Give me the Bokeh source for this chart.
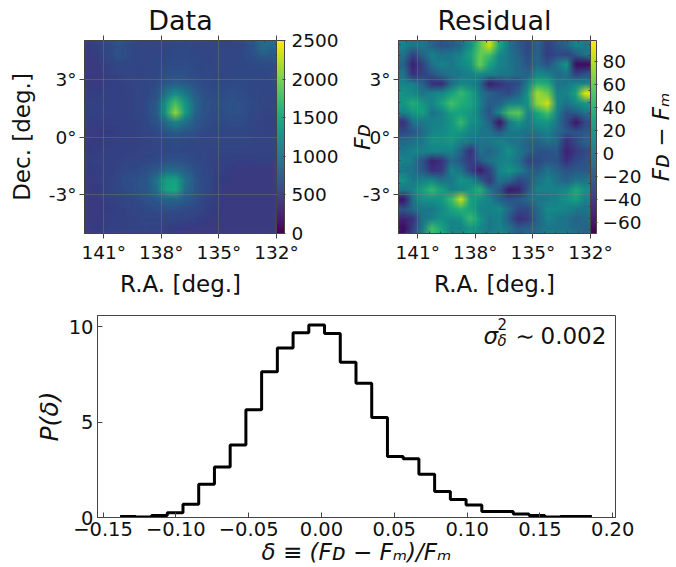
from bokeh.plotting import figure
from bokeh.layouts import column, row
from bokeh.models import (Range1d, LinearColorMapper, ColorBar, FixedTicker, LinearAxis, Label)
from bokeh.palettes import Viridis256
from bokeh.embed import file_html
from bokeh.resources import INLINE
import numpy as np

ra_ticks = [141, 138, 135, 132]
dec_ticks = [-3, 0, 3]
ra_minor = [141.6, 141.0, 140.4, 139.8, 139.2, 138.6, 138.0, 137.4, 136.8, 136.2, 135.6, 135.0, 134.4, 133.8, 133.2, 132.6, 132.0]
dec_minor = [-4.8, -4.2, -3.6, -3.0, -2.4, -1.8, -1.2, -0.6, 0.0, 0.6, 1.2, 1.8, 2.4, 3.0, 3.6, 4.2, 4.8]
data_ticks = [0, 500, 1000, 1500, 2000, 2500]
resid_ticks = [-60, -40, -20, 0, 20, 40, 60, 80]
hist_xticks = [-0.15, -0.10, -0.05, 0.00, 0.05, 0.10, 0.15, 0.20]
hist_xlabels = ["\u22120.15", "\u22120.10", "\u22120.05", "0.00", "0.05", "0.10", "0.15", "0.20"]
hist_yticks = [0, 5, 10]

data_map = [
[520,560,620,700,660,600,580,580,600,620,620,600,600,580,580,600,620,700,950,900],
[500,540,620,720,650,600,590,600,620,640,640,620,600,590,590,600,640,680,800,780],
[480,510,560,620,610,590,590,610,640,660,660,640,610,590,590,600,620,640,660,660],
[480,500,540,570,580,580,590,620,670,700,690,650,620,600,600,610,620,620,620,630],
[500,510,530,550,570,580,600,650,760,830,790,700,640,620,630,640,630,620,610,610],
[530,530,540,550,560,580,620,710,1000,1250,1080,800,680,650,660,680,650,620,600,590],
[540,550,550,550,560,590,640,780,1350,1800,1350,880,720,670,680,710,680,630,590,580],
[540,550,550,550,560,590,640,780,1400,2100,1400,870,710,660,670,700,680,620,580,570],
[530,530,530,540,550,570,620,710,950,1150,980,780,680,640,640,660,650,600,570,560],
[510,510,520,530,540,560,590,650,740,800,750,680,630,610,610,620,610,590,570,560],
[510,520,530,540,550,560,570,600,640,660,640,620,600,590,590,600,590,580,570,570],
[520,530,540,550,560,570,580,590,620,630,620,600,590,570,570,570,570,570,570,570],
[530,540,540,560,580,590,610,640,680,700,680,640,600,570,550,540,530,530,540,540],
[520,530,550,580,620,640,680,770,950,960,830,690,610,560,530,510,500,500,510,510],
[510,530,570,620,670,690,760,1000,1450,1500,1000,750,630,560,520,500,490,490,490,500],
[500,520,560,610,660,690,760,950,1500,1550,950,740,630,550,510,490,480,480,490,490],
[500,510,540,570,610,650,700,770,860,880,790,680,600,540,510,490,480,480,480,480],
[500,500,520,550,570,600,630,660,680,680,650,610,560,520,500,490,480,480,480,480],
[500,510,530,550,560,570,590,600,600,590,570,550,520,500,490,480,480,480,480,480],
[510,520,540,550,560,570,570,560,540,520,510,500,490,490,480,480,480,480,480,480],
]

resid_map = [
[8,-3,2,-12,-22,-18,-8,17,55,85,32,-3,-18,-30,-12,-32,-22,-12,8,2],
[-3,-32,-12,8,-3,2,8,28,60,50,12,2,-12,-28,-12,-35,-28,-32,-18,-3],
[-12,-50,-32,-3,8,2,12,22,62,32,8,2,-8,-22,-8,-22,-3,20,-60,-60],
[-3,-42,-32,-22,-8,-3,2,8,12,8,2,2,-8,-12,12,8,-8,-3,-32,-22],
[8,8,-12,-42,-45,-8,12,8,-8,-52,-42,-32,-28,8,40,35,-3,2,12,12],
[18,12,2,8,12,28,45,32,2,-12,-22,-28,-12,22,75,62,8,8,28,90],
[22,38,22,8,28,50,38,32,8,-18,-12,8,8,18,70,85,12,-3,12,22],
[8,22,28,-3,8,28,28,22,2,-22,12,52,58,8,32,50,8,-22,-18,-3],
[-42,-3,2,8,8,22,45,18,8,-12,-55,2,22,2,18,22,2,-28,-55,-28],
[-28,-22,-8,8,12,22,22,8,2,-3,-18,2,2,-3,2,8,-8,-18,-22,-18],
[-8,-3,2,18,18,22,8,2,-3,2,8,2,-3,-12,-12,-3,-8,-42,-28,-12],
[2,8,8,8,8,8,-12,-42,-3,-12,2,18,2,-12,-22,-22,-18,-48,-38,-28],
[8,2,-22,-50,-42,-8,-22,-38,-18,-3,8,8,-3,-32,-28,-22,-22,-42,-28,-22],
[2,-3,-18,-42,-38,8,-3,-32,-52,-32,8,22,8,-12,-18,-3,-12,-22,-18,-18],
[18,2,8,12,-3,2,22,12,-12,-38,-3,-8,-28,-22,-3,8,-3,-12,-3,-3],
[2,8,28,45,28,8,8,22,40,2,-22,-55,-50,-18,8,8,8,12,35,18],
[-55,-3,18,18,22,45,85,28,18,8,-12,-22,-18,-8,2,2,8,18,28,8],
[-22,-8,2,2,12,32,40,32,8,8,12,-8,-28,-28,-8,12,12,8,2,-3],
[-48,-42,-3,8,18,12,18,45,22,2,8,-18,-42,-38,-12,8,2,-3,-12,-8],
[-60,-32,2,50,32,8,8,22,12,2,8,-3,-18,-12,-8,2,2,-3,-8,-12],
]

bin_edges = [-0.1383,-0.1275,-0.1167,-0.1059,-0.0951,-0.0843,-0.0735,-0.0627,-0.0519,-0.0411,-0.0303,
             -0.0195,-0.0087,0.0021,0.0129,0.0237,0.0345,0.0453,0.0561,0.0669,0.0777,0.0885,0.0993,
             0.1101,0.1209,0.1317,0.1425,0.1533,0.1641,0.1749,0.1857]
hist_vals = [0.05,0.02,0.10,0.25,0.70,1.75,2.65,3.80,5.65,7.65,8.90,9.70,10.10,9.65,8.15,7.05,5.25,3.20,3.08,
             2.27,1.36,0.95,0.65,0.32,0.32,0.18,0.10,0.03,0.05,0.05]

FONT = "DejaVu Sans"
INK = "#111111"
FRAME = "#444444"
LAYER_SHIFTS = [0.0, -0.1, 0.1, -0.2, 0.2]


def piece(p, ox, oy, px, py, text, size, style="normal"):
    p.add_layout(Label(x=px - ox, y=oy - py + 10, x_units="screen", y_units="screen", text=text,
                       text_font=FONT, text_font_size=f"{size}px", text_font_style=style,
                       text_color=INK, text_align="left", text_baseline="alphabetic"))


def style_axis(a, tick_size):
    a.major_label_text_font = FONT
    a.major_label_text_font_size = tick_size
    a.major_label_text_color = INK
    a.axis_label_text_font = FONT
    a.axis_label_text_color = INK
    a.axis_line_color = FRAME
    a.major_tick_line_color = FRAME


def map_panel(values, low, high, title, left, w, cbar_ticks, cbar_labels, cbar_w, ylabel, ylabel_italic, cb_standoff):
    p = figure(width=w, height=300, frame_width=192, frame_height=193,
               x_range=Range1d(142, 132), y_range=Range1d(-5, 5),
               toolbar_location=None, output_backend="svg",
               min_border_left=left, min_border_right=w - left - 192,
               min_border_top=40, min_border_bottom=67)
    mapper = LinearColorMapper(palette=Viridis256, low=low, high=high)
    # the reference map is displayed smoothly: the same read grid is layered with small shifts
    img = np.fliplr(np.flipud(np.array(values, dtype=float)))
    k = 0
    for dy in LAYER_SHIFTS:
        for dx in LAYER_SHIFTS:
            k += 1
            p.image(image=[img], x=132 + dx, y=-5 + dy, dw=10, dh=10, color_mapper=mapper, global_alpha=1.0 / k)
    p.title.text = title
    p.title.align = "center"
    p.title.text_font = FONT
    p.title.text_font_size = "27px"
    p.title.text_font_style = "normal"
    p.title.text_color = INK
    p.title.standoff = 0
    p.xaxis.ticker = FixedTicker(ticks=ra_ticks, minor_ticks=ra_minor)
    p.yaxis.ticker = FixedTicker(ticks=dec_ticks, minor_ticks=dec_minor)
    p.xaxis.major_label_overrides = {t: f"{t}\u00b0" for t in ra_ticks}
    p.yaxis.major_label_overrides = {t: f"{t}\u00b0" for t in dec_ticks}
    p.xaxis.axis_label = "R.A. [deg.]"
    p.yaxis.axis_label = ylabel
    for a in [p.xaxis[0], p.yaxis[0]]:
        style_axis(a, "18.5px")
        a.axis_label_text_font_size = "23px"
        a.axis_label_text_font_style = "normal"
        a.minor_tick_line_color = FRAME
        a.major_tick_out = 5
        a.major_tick_in = 0
        a.minor_tick_out = 0
        a.minor_tick_in = 2
    if ylabel_italic:
        p.yaxis.axis_label_text_font_style = "italic"
        p.yaxis.axis_label_text_font_size = "22px"
    p.xaxis.major_label_standoff = 3
    p.yaxis.major_label_standoff = 3
    p.xaxis.axis_label_standoff = 5
    p.yaxis.axis_label_standoff = -15 if ylabel_italic else 11
    for g, t in ((p.xgrid, ra_ticks), (p.ygrid, dec_ticks)):
        g.ticker = FixedTicker(ticks=t)
        g.level = "overlay"
        g.grid_line_color = "#8a8a6a"
        g.grid_line_alpha = 0.7
        g.grid_line_dash = "1 1"
        g.grid_line_width = 1
    for side, tk, mt in (("above", ra_ticks, ra_minor), ("right", dec_ticks, dec_minor)):
        ax = LinearAxis(ticker=FixedTicker(ticks=tk, minor_ticks=mt), major_label_text_font_size="1px",
                        major_label_text_color=None, major_label_overrides={t: " " for t in tk},
                        axis_line_color=FRAME, major_tick_line_color=FRAME, minor_tick_line_color=FRAME,
                        major_tick_out=5 if side == "above" else 0, major_tick_in=0, minor_tick_out=0, minor_tick_in=2,
                        major_label_standoff=2 if side == "right" else 0)
        p.add_layout(ax, side)
    cb = ColorBar(color_mapper=mapper, ticker=FixedTicker(ticks=cbar_ticks), width=cbar_w,
                  major_label_overrides=cbar_labels, major_label_text_font=FONT,
                  major_label_text_font_size="18.5px", major_label_text_color=INK,
                  major_tick_line_color=FRAME, major_tick_in=2, major_tick_out=1,
                  minor_tick_line_color=None, bar_line_color=FRAME, padding=0, margin=0, label_standoff=cb_standoff)
    p.add_layout(cb, "right")
    p.outline_line_color = FRAME
    return p


def label_strip(text, size, left, standoff):
    s = figure(width=left + 1, height=300, frame_width=1, frame_height=193,
               x_range=Range1d(0, 1), y_range=Range1d(-5, 5), toolbar_location=None, output_backend="svg",
               min_border_left=left, min_border_right=0, min_border_top=40, min_border_bottom=67)
    s.xaxis.visible = False
    s.grid.visible = False
    s.outline_line_color = None
    s.yaxis.ticker = FixedTicker(ticks=[])
    s.yaxis.axis_label = text
    s.yaxis.axis_label_text_font = FONT
    s.yaxis.axis_label_text_font_size = size
    s.yaxis.axis_label_text_font_style = "italic"
    s.yaxis.axis_label_text_color = INK
    s.yaxis.axis_line_color = None
    s.yaxis.major_tick_line_color = None
    s.yaxis.minor_tick_line_color = None
    s.yaxis.axis_label_standoff = standoff
    return s


fig1 = map_panel(data_map, 0, 2500, "Data", 84, 340, data_ticks, {}, 8, "Dec. [deg.]", False, 6)
fig2 = map_panel(resid_map, -70, 98, "Residual", 57, 303, resid_ticks,
                 {t: (f"\u2212{-t}" if t < 0 else str(t)) for t in resid_ticks}, 6, "F\u1d05", True, 5)
strip_end = label_strip("F\u1d05 \u2212 F\u2098", "23px", 32, 3)

fig3 = figure(width=676, height=267, frame_width=518, frame_height=202,
              x_range=Range1d(-0.1538, 0.2019), y_range=Range1d(0, 10.6),
              toolbar_location=None, output_backend="svg",
              min_border_left=97, min_border_right=61, min_border_top=15, min_border_bottom=50)
fig3.step(x=bin_edges, y=hist_vals + [hist_vals[-1]], mode="after", line_color="black", line_width=3)
fig3.grid.visible = False
fig3.outline_line_color = FRAME
fig3.xaxis.ticker = FixedTicker(ticks=hist_xticks)
fig3.yaxis.ticker = FixedTicker(ticks=hist_yticks)
fig3.xaxis.major_label_overrides = dict(zip(hist_xticks, hist_xlabels))
fig3.xaxis.axis_label = "\u03b4 \u2261 (F\u1d05 \u2212 F\u2098)/F\u2098"
fig3.yaxis.axis_label = "P(\u03b4)"
for a in [fig3.xaxis[0], fig3.yaxis[0]]:
    style_axis(a, "19.5px")
    a.axis_label_text_font_size = "23px"
    a.axis_label_text_font_style = "italic"
    a.major_tick_in = 5
    a.major_tick_out = 0
    a.minor_tick_line_color = None
    a.major_label_standoff = 4
    a.axis_label_standoff = 0
fig3.yaxis.axis_label_text_font_size = "25px"
fig3.yaxis.axis_label_standoff = 2

O3 = (97, 517)
piece(fig3, *O3, 483, 345, "\u03c3", 23, "italic")
piece(fig3, *O3, 497, 333, "2", 15)
piece(fig3, *O3, 497, 350, "\u03b4", 15, "italic")
piece(fig3, *O3, 515, 345, "\u223c", 23)
piece(fig3, *O3, 540, 345, "0.002", 23)

layout = column(row(fig1, fig2, strip_end, spacing=0), fig3, spacing=0)
open("out.html", "w").write(file_html(layout, INLINE))
